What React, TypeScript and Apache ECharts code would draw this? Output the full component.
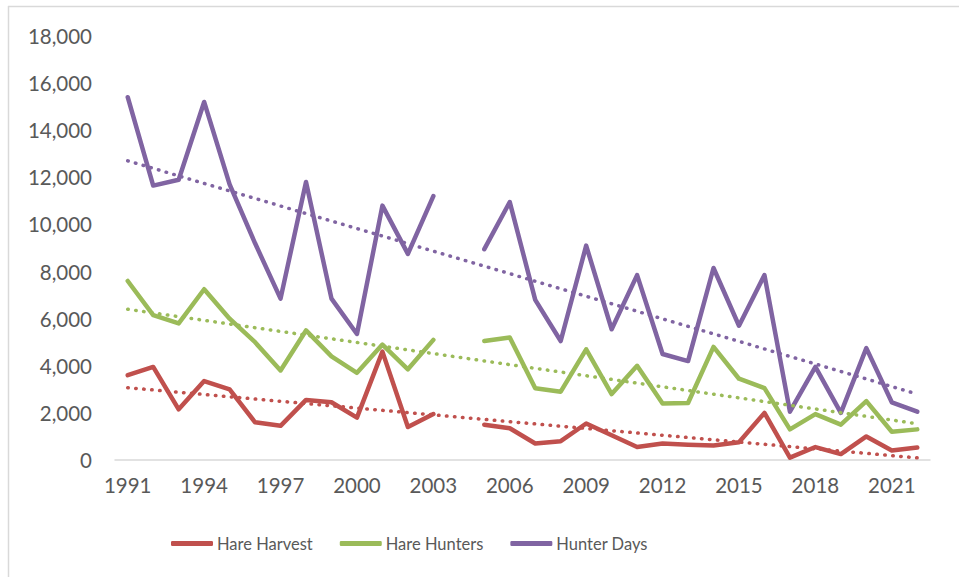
import React, { useEffect, useRef } from "react";
import * as echarts from "echarts";

const years: string[] = [];
for (let y = 1991; y <= 2022; y++) years.push(String(y));

const hareHarvest: (number | null)[] = [
  3600, 3950, 2150, 3350, 3000, 1600, 1450, 2550, 2450, 1800,
  4600, 1400, 1950, null, 1500, 1350, 700, 800, 1550, 1050,
  550, 700, 650, 620, 750, 2000, 100, 550, 250, 1000,
  400, 530,
];
const hareHunters: (number | null)[] = [
  7600, 6150, 5800, 7250, 6000, 5000, 3800, 5500, 4400, 3700,
  4900, 3850, 5100, null, 5050, 5200, 3050, 2900, 4700, 2800,
  4000, 2400, 2420, 4800, 3450, 3050, 1300, 1950, 1500, 2500,
  1200, 1300,
];
const hunterDays: (number | null)[] = [
  15400, 11650, 11900, 15200, 11700, 9200, 6850, 11800, 6850, 5350,
  10800, 8750, 11200, null, 8950, 10950, 6800, 5050, 9100, 5550,
  7850, 4500, 4200, 8150, 5700, 7850, 2050, 3950, 2000, 4750,
  2450, 2050,
];

// Trendline endpoints (1991, 2022)
const harvestTrend = [3070, 90];
const huntersTrend = [6400, 1540];
const daysTrend = [12700, 2800];

const seriesNames = ["Hare Harvest", "Hare Hunters", "Hunter Days"];
const colors = ["#C0504D", "#9BBB59", "#8064A2"];
const yTicks = [0, 2000, 4000, 6000, 8000, 10000, 12000, 14000, 16000, 18000];

const FONT = "Lato, 'Open Sans', sans-serif";

export default function App() {
  const ref = useRef<HTMLDivElement>(null);
  useEffect(() => {
    if (!ref.current) return;
    const chart = echarts.init(ref.current, undefined, { renderer: "svg" });
    const values = [hareHarvest, hareHunters, hunterDays];
    const trends = [harvestTrend, huntersTrend, daysTrend];
    const first = years[0];
    const last = years[years.length - 1];
    const lineSeries: any[] = values.map((v, i) => ({
      name: seriesNames[i],
      type: "line",
      data: v.map((x) => (x === null ? "-" : x)),
      symbol: "none",
      connectNulls: false,
      lineStyle: { color: colors[i], width: 4.5, cap: "round", join: "round" },
      itemStyle: { color: colors[i] },
      z: 3,
    }));
    const trendSeries: any[] = trends.map((t, i) => ({
      name: seriesNames[i] + " trend",
      type: "line",
      data: [
        [first, t[0]],
        [last, t[1]],
      ],
      symbol: "none",
      lineStyle: { color: colors[i], width: 3.5, type: [0.5, 7.5], cap: "round" },
      itemStyle: { color: colors[i] },
      z: 4,
    }));
    chart.setOption({
      animation: false,
      backgroundColor: "#ffffff",
      grid: { left: 115, right: 29, top: 36, bottom: 117, containLabel: false },
      xAxis: {
        type: "category",
        data: years,
        boundaryGap: true,
        axisLine: { show: true, lineStyle: { color: "#d9d9d9", width: 1.5 } },
        axisTick: { show: false },
        axisLabel: {
          interval: 2,
          color: "#595959",
          fontFamily: FONT,
          fontSize: 20.5,
          margin: 14,
        },
        splitLine: { show: false },
      },
      yAxis: {
        type: "value",
        min: yTicks[0],
        max: yTicks[yTicks.length - 1],
        interval: 2000,
        axisLine: { show: false },
        axisTick: { show: false },
        splitLine: { show: false },
        axisLabel: {
          color: "#595959",
          fontFamily: FONT,
          fontSize: 20.5,
          margin: 23,
          formatter: (v: number) => v.toLocaleString("en-US"),
        },
      },
      legend: {
        data: seriesNames,
        left: 166,
        top: 530,
        icon: "roundRect",
        itemWidth: 42,
        itemHeight: 5,
        itemGap: 27,
        textStyle: { color: "#595959", fontFamily: FONT, fontSize: 16.5, padding: [0, 0, 0, -1] },
      },
      graphic: [
        { type: "line", shape: { x1: 8, y1: 6.5, x2: 959, y2: 6.5 }, style: { stroke: "#d9d9d9", lineWidth: 1.5 } },
        { type: "line", shape: { x1: 8.5, y1: 6, x2: 8.5, y2: 577 }, style: { stroke: "#d9d9d9", lineWidth: 1.5 } },
      ],
      series: [...lineSeries, ...trendSeries],
    });
    return () => chart.dispose();
  }, []);
  return (
    <div
      ref={ref}
      style={{ position: "fixed", left: 0, top: 0, width: 959, height: 577, background: "#fff" }}
    />
  );
}
